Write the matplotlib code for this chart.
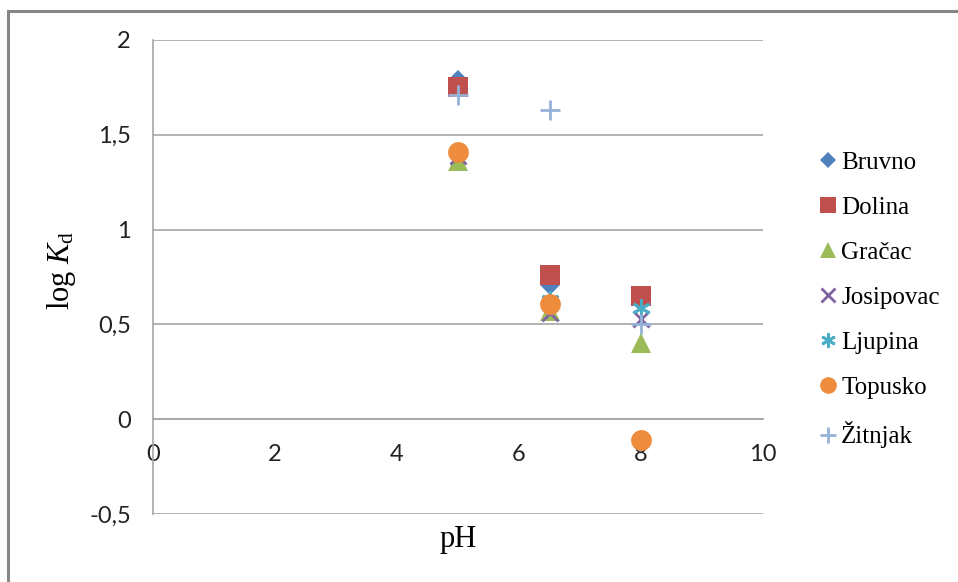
import matplotlib
matplotlib.use('Agg')
import matplotlib.pyplot as plt
from matplotlib.patches import Rectangle

# pH values and log Kd per site
ph = [5, 6.5, 8]
sites = ['Bruvno', 'Dolina', 'Gračac', 'Josipovac', 'Ljupina', 'Topusko', 'Žitnjak']
bruvno = [1.79, 0.71, 0.62]
dolina = [1.75, 0.76, 0.65]
gracac = [1.36, 0.57, 0.40]
josipovac = [1.39, 0.56, 0.53]
ljupina = [1.41, 0.63, 0.585]
topusko = [1.41, 0.605, -0.11]
zitnjak = [1.71, 1.63, 0.50]

series = [bruvno, dolina, gracac, josipovac, ljupina, topusko, zitnjak]
colors = ['#4F81BD', '#C0504D', '#9BBB59', '#8064A2', '#4BACC6', '#EE8C3E', '#95B3D7']
markers = ['D', 's', '^', 'x', (6, 2, 0), 'o', '+']
sizes = [10, 15, 14, 12, 13, 15, 14]

plt.rcParams['mathtext.fontset'] = 'custom'
plt.rcParams['mathtext.rm'] = 'Liberation Serif'
plt.rcParams['mathtext.it'] = 'Liberation Serif:italic'

fig = plt.figure(figsize=(9.58, 5.82), dpi=100)
ax = fig.add_axes([153 / 958, 1 - 514 / 582, 610 / 958, 474 / 582])

for i, (name, vals) in enumerate(zip(sites, series)):
    line_marker = markers[i] in ('x', '+') or isinstance(markers[i], tuple)
    ax.plot(ph, vals, linestyle='none', marker=markers[i], markersize=sizes[i],
            color=colors[i], markeredgewidth=2 if line_marker else 0,
            label=name, zorder=3 + i)

ax.set_xlim(0, 10)
ax.set_ylim(-0.5, 2)
ax.set_xticks([0, 2, 4, 6, 8, 10])
ax.set_yticks([-0.5, 0, 0.5, 1, 1.5, 2])
ax.set_yticklabels(['-0,5', '0', '0,5', '1', '1,5', '2'])
ax.yaxis.grid(True, color='#A6A6A6', linewidth=1.2)
ax.set_axisbelow(True)

for s in ['top', 'right']:
    ax.spines[s].set_visible(False)
ax.spines['left'].set_color('#A6A6A6')
ax.spines['left'].set_linewidth(1.2)
ax.spines['bottom'].set_position(('data', 0))
ax.spines['bottom'].set_color('#A6A6A6')
ax.spines['bottom'].set_linewidth(1.2)

ax.tick_params(axis='both', length=0, labelsize=17, labelcolor='#222222')
ax.tick_params(axis='x', pad=18)
ax.tick_params(axis='y', pad=16)
for lab in ax.get_xticklabels() + ax.get_yticklabels():
    lab.set_fontfamily('Lato')

fig.text(62 / 958, 1 - 270 / 582, r'log $\mathit{K}_\mathrm{d}$', rotation=90,
         ha='center', va='center', fontsize=22, family='Liberation Serif')
fig.text(458 / 958, 1 - 540 / 582, 'pH', ha='center', va='center',
         fontsize=22, family='Liberation Serif')

leg = ax.legend(loc='center left', bbox_to_anchor=(805 / 958, 1 - 300 / 582),
                bbox_transform=fig.transFigure, frameon=False, borderpad=0,
                prop={'family': 'Liberation Serif', 'size': 18},
                labelspacing=0.9, handlelength=0.8, handletextpad=0.15,
                markerscale=0.8)

# outer chart border
fig.patches.append(Rectangle((8 / 958, -0.1), 1.2, 1 - 11 / 582 + 0.1,
                             transform=fig.transFigure, fill=False,
                             edgecolor='#868686', linewidth=2.2))

fig.savefig('out.png', dpi=100)
